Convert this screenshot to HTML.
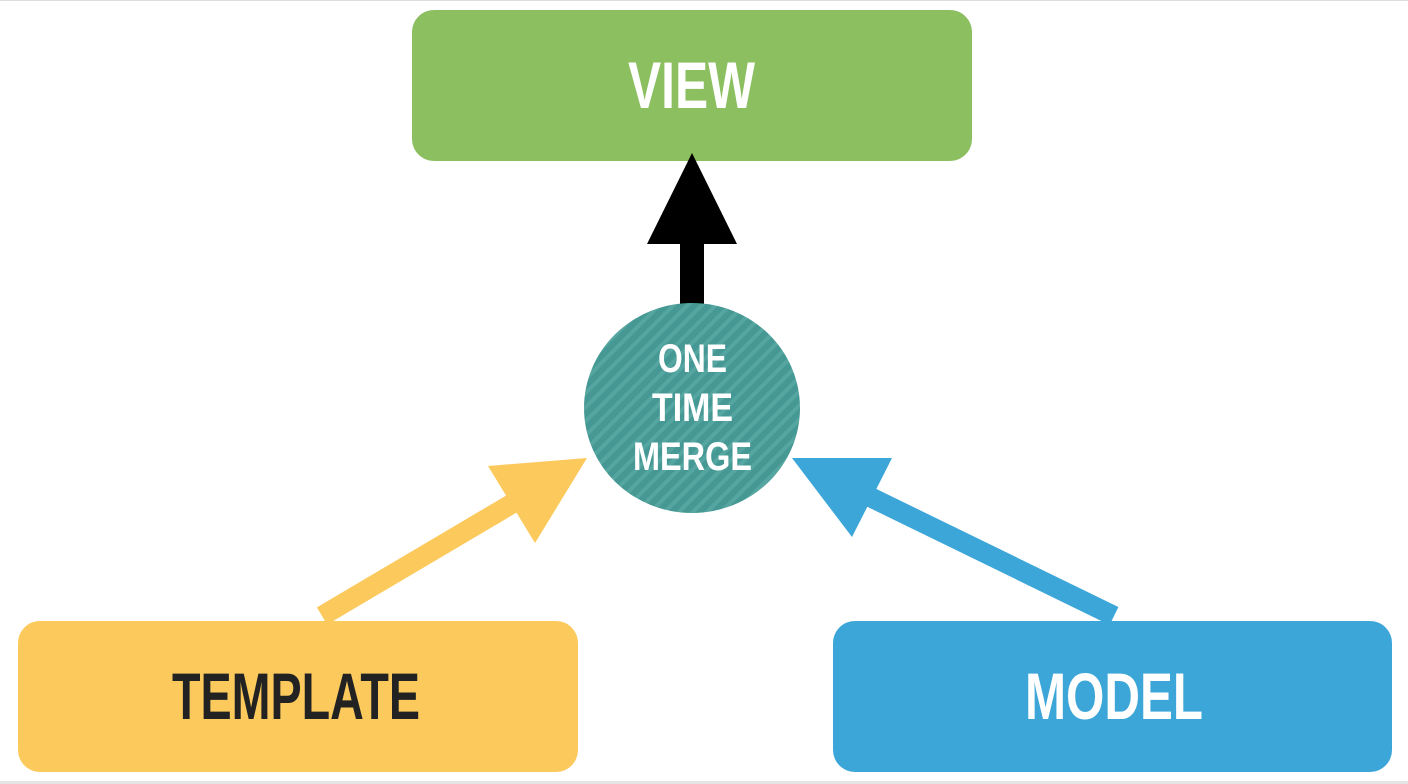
<!DOCTYPE html>
<html><head><style>
body{margin:0;width:1408px;height:784px;background:#fff;position:relative;overflow:hidden;font-family:"Liberation Sans",sans-serif;font-weight:bold}
</style></head><body>
<svg width="1408" height="784" style="position:absolute;left:0;top:0">
<defs><pattern id="p" width="10" height="10" patternUnits="userSpaceOnUse" patternTransform="rotate(45)"><rect width="10" height="10" fill="#459894"/><rect width="4" height="10" fill="#55a5a1"/></pattern></defs>
<rect x="0" y="0" width="1408" height="1" fill="#ddd"/>
<rect x="0" y="781" width="1408" height="3" fill="#e4e4e4"/>
<rect x="412" y="10" width="560" height="151" rx="22" fill="#8bbf60"/>
<rect x="18" y="621" width="560" height="151" rx="22" fill="#fcc95c"/>
<rect x="833" y="621" width="559" height="151" rx="22" fill="#3ca6d8"/>
<rect x="680" y="240" width="24" height="64" fill="#000"/>
<polygon points="647,244 737,244 692,153" fill="#000"/>
<line x1="322" y1="616" x2="525" y2="496" stroke="#fcc95c" stroke-width="20"/>
<polygon points="488,466 587,458 535,543" fill="#fcc95c"/>
<line x1="1114" y1="616" x2="868" y2="496" stroke="#3ca6d8" stroke-width="20"/>
<polygon points="792,458 892,458 852,537" fill="#3ca6d8"/>
<ellipse cx="692" cy="408" rx="108" ry="105" fill="url(#p)"/>
<g font-family="Liberation Sans, sans-serif" font-weight="bold" lengthAdjust="spacingAndGlyphs">
<text x="628" y="108" font-size="66" fill="#fff" textLength="127" lengthAdjust="spacingAndGlyphs">VIEW</text>
<text x="172" y="719" font-size="66" fill="#222" textLength="248" lengthAdjust="spacingAndGlyphs">TEMPLATE</text>
<text x="1025" y="719" font-size="66" fill="#fff" textLength="178" lengthAdjust="spacingAndGlyphs">MODEL</text>
<text x="658" y="372" font-size="40" fill="#fff" textLength="69" lengthAdjust="spacingAndGlyphs">ONE</text>
<text x="652" y="421" font-size="40" fill="#fff" textLength="81" lengthAdjust="spacingAndGlyphs">TIME</text>
<text x="633" y="470" font-size="40" fill="#fff" textLength="119" lengthAdjust="spacingAndGlyphs">MERGE</text>
</g>
</svg>
</body></html>
